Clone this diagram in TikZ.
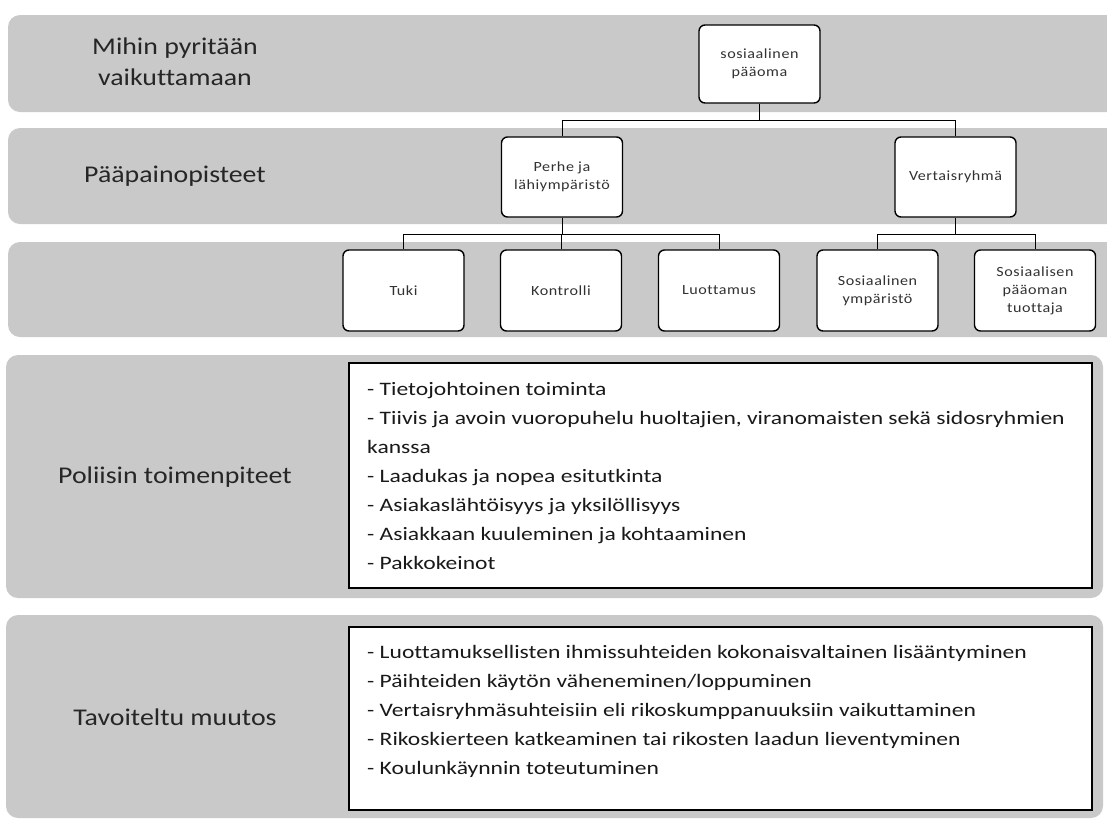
\documentclass[tikz,border=0pt]{standalone}
\usepackage{fontspec}
\setmainfont{Carlito}[Ligatures=NoCommon]
\newfontfamily\lblfont[FakeStretch=1.16,Ligatures=NoCommon]{Carlito}
\newfontfamily\lstfont[FakeStretch=1.24,Ligatures=NoCommon]{Carlito}
\newfontfamily\boxfont[FakeStretch=1.15,LetterSpace=4,Ligatures=NoCommon]{Carlito}
\usetikzlibrary{calc}
\definecolor{band}{RGB}{201,201,201}
\definecolor{txt}{RGB}{38,38,38}
\definecolor{boxtxt}{RGB}{50,50,50}
\tikzset{
  bandbg/.style={fill=band, rounded corners=12pt},
  kbox/.style={draw=black, line width=1.4pt, fill=white, rounded corners=6pt,
    minimum width=121pt, minimum height=80pt, inner sep=2pt, align=center,
    font=\boxfont\fontsize{14}{18}\selectfont, text=boxtxt},
  lbl/.style={align=center, text=txt, font=\lblfont\fontsize{24}{31}\selectfont, inner sep=0pt},
  listbox/.style={draw=black, line width=1.4pt, fill=white},
  listtxt/.style={anchor=base west, inner sep=0pt, text=black!90, font=\lstfont\fontsize{19}{29}\selectfont},
  conn/.style={line width=1.5pt, to path={(\tikztostart) -- ++(0,16) -| (\tikztotarget)}}
}
\begin{document}
\begin{tikzpicture}[x=1pt,y=-1pt]
\clip (0,0) rectangle (1107,820);
\fill[white] (0,0) rectangle (1107,820);
% bands
\fill[bandbg] (8,15) rectangle (1140,112);
\fill[bandbg] (8,128) rectangle (1140,224);
\fill[bandbg] (8,242) rectangle (1140,337);
\fill[bandbg] (6,355) rectangle (1103,598);
\fill[bandbg] (6,615) rectangle (1103,818);
% labels
\node[lbl] (lab1) at (175,62) {Mihin pyritään\\vaikuttamaan};
\node[lbl] (lab2) at (175,176) {Pääpainopisteet};
\node[lbl] (lab4) at (175,477) {Poliisin toimenpiteet};
\node[lbl] (lab5) at (175,717) {Tavoiteltu muutos};
% tree boxes
\node[kbox, minimum height=78pt] (sos) at (759.5,64) {sosiaalinen\\pääoma};
\node[kbox] (perhe) at (562,177) {Perhe ja\\lähiympäristö};
\node[kbox] (vert) at (955.5,177) {Vertaisryhmä};
\node[kbox, minimum height=81pt] (tuki) at (403.5,290.5) {Tuki};
\node[kbox, minimum height=81pt] (kontr) at (561,290.5) {Kontrolli};
\node[kbox, minimum height=81pt] (luott) at (719,290.5) {Luottamus};
\node[kbox, minimum height=81pt] (symp) at (877.5,290.5) {Sosiaalinen\\ympäristö};
\node[kbox, minimum height=81pt] (tuott) at (1035,290.5) {Sosiaalisen\\pääoman\\tuottaja};
% connectors
\draw (sos.south) to[conn] (perhe.north);
\draw (sos.south) to[conn] (vert.north);
\draw (perhe.south) to[conn] (tuki.north);
\draw (perhe.south) to[conn] (kontr.north);
\draw (perhe.south) to[conn] (luott.north);
\draw (vert.south) to[conn] (symp.north);
\draw (vert.south) to[conn] (tuott.north);
% list boxes
\draw[listbox] (349,363) rectangle (1092,588);
\draw[listbox] (349,627) rectangle (1092,810);
\node[listtxt] (list4) at (367,395) {\vtop{\baselineskip=29pt
  \hbox{- Tietojohtoinen toiminta}
  \hbox{- Tiivis ja avoin vuoropuhelu huoltajien, viranomaisten sekä sidosryhmien}
  \hbox{kanssa}
  \hbox{- Laadukas ja nopea esitutkinta}
  \hbox{- Asiakaslähtöisyys ja yksilöllisyys}
  \hbox{- Asiakkaan kuuleminen ja kohtaaminen}
  \hbox{- Pakkokeinot}}};
\node[listtxt] (list5) at (367,658) {\vtop{\baselineskip=29pt
  \hbox{- Luottamuksellisten ihmissuhteiden kokonaisvaltainen lisääntyminen}
  \hbox{- Päihteiden käytön väheneminen/loppuminen}
  \hbox{- Vertaisryhmäsuhteisiin eli rikoskumppanuuksiin vaikuttaminen}
  \hbox{- Rikoskierteen katkeaminen tai rikosten laadun lieventyminen}
  \hbox{- Koulunkäynnin toteutuminen}}};
\end{tikzpicture}
\end{document}
